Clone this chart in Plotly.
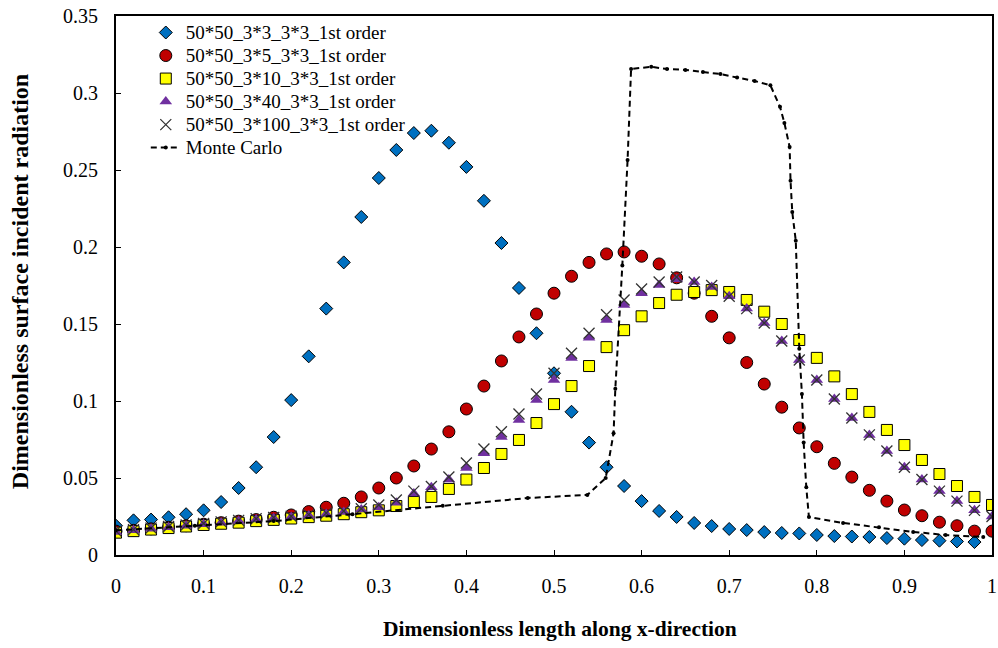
import plotly.graph_objects as go

x_vals = [0.00, 0.02, 0.04, 0.06, 0.08, 0.10, 0.12, 0.14, 0.16, 0.18,
          0.20, 0.22, 0.24, 0.26, 0.28, 0.30, 0.32, 0.34, 0.36, 0.38,
          0.40, 0.42, 0.44, 0.46, 0.48, 0.50, 0.52, 0.54, 0.56, 0.58,
          0.60, 0.62, 0.64, 0.66, 0.68, 0.70, 0.72, 0.74, 0.76, 0.78,
          0.80, 0.82, 0.84, 0.86, 0.88, 0.90, 0.92, 0.94, 0.96, 0.98, 1.00]

blue_3x3 = [0.019, 0.0225, 0.023, 0.0245, 0.0265, 0.029, 0.0344, 0.0435, 0.057, 0.0766,
            0.1006, 0.129, 0.160, 0.190, 0.2195, 0.2448, 0.263, 0.274, 0.2755, 0.2677,
            0.252, 0.230, 0.2026, 0.1734, 0.144, 0.118, 0.093, 0.073, 0.057, 0.0448,
            0.035, 0.0286, 0.0247, 0.0208, 0.0188, 0.0169, 0.0162, 0.0149, 0.0143, 0.0140,
            0.013, 0.0123, 0.012, 0.0117, 0.0110, 0.0106, 0.0097, 0.0093, 0.0088, 0.0084]

red_3x5 = [0.0155, 0.016, 0.017, 0.018, 0.019, 0.020, 0.021, 0.022, 0.023, 0.0245,
           0.026, 0.0282, 0.031, 0.0336, 0.0377, 0.0435, 0.050, 0.0578, 0.0688, 0.080,
           0.0948, 0.1097, 0.126, 0.1416, 0.1565, 0.170, 0.181, 0.190, 0.1955, 0.1968,
           0.194, 0.189, 0.180, 0.170, 0.155, 0.141, 0.125, 0.111, 0.096, 0.0825,
           0.0703, 0.0595, 0.0506, 0.042, 0.035, 0.0292, 0.0255, 0.0213, 0.019, 0.0155, 0.0155]

yellow_3x10 = [0.0145, 0.0155, 0.0165, 0.0175, 0.0185, 0.0195, 0.0203, 0.021, 0.022, 0.0228,
               0.0237, 0.0246, 0.0255, 0.0265, 0.0278, 0.029, 0.0318, 0.0344, 0.0377, 0.0429,
               0.049, 0.0565, 0.0656, 0.0747, 0.0857, 0.098, 0.1097, 0.1227, 0.135, 0.146,
               0.155, 0.1636, 0.169, 0.1708, 0.172, 0.1708, 0.1656, 0.158, 0.150, 0.1396,
               0.128, 0.116, 0.1045, 0.0929, 0.0812, 0.0714, 0.0617, 0.0526, 0.0448, 0.0377, 0.0325]

purple_3x40 = [0.015, 0.016, 0.017, 0.018, 0.019, 0.020, 0.021, 0.022, 0.023, 0.0238,
               0.0247, 0.0257, 0.0267, 0.028, 0.0295, 0.031, 0.034, 0.040, 0.044, 0.049,
               0.0565, 0.066, 0.0766, 0.0877, 0.1006, 0.1136, 0.128, 0.141, 0.1526, 0.1623,
               0.170, 0.1753, 0.179, 0.1773, 0.174, 0.168, 0.160, 0.1506, 0.139, 0.1266,
               0.1136, 0.1013, 0.089, 0.078, 0.0675, 0.057, 0.049, 0.0415, 0.035, 0.029, 0.025]

cross_3x100 = [0.0155, 0.0165, 0.0175, 0.0185, 0.0195, 0.0205, 0.0215, 0.0225, 0.0235, 0.0243,
               0.0252, 0.0262, 0.0272, 0.0285, 0.030, 0.0325, 0.0357, 0.0415, 0.0445, 0.0507,
               0.0597, 0.0688, 0.080, 0.0916, 0.1045, 0.118, 0.131, 0.144, 0.156, 0.1656,
               0.1727, 0.1773, 0.1805, 0.1773, 0.175, 0.168, 0.160, 0.1506, 0.139, 0.1266,
               0.1136, 0.1013, 0.089, 0.078, 0.0675, 0.057, 0.049, 0.0415, 0.035, 0.029, 0.025]

mc_x = [0.0, 0.09, 0.18, 0.27, 0.373, 0.47, 0.538, 0.559, 0.568, 0.570, 0.578, 0.584,
        0.588, 0.611, 0.629, 0.650, 0.670, 0.690, 0.709, 0.729, 0.747, 0.758, 0.763,
        0.769, 0.770, 0.772, 0.776, 0.780, 0.783, 0.785, 0.788, 0.791, 0.830, 0.871,
        0.910, 0.947, 0.990]
mc_y = [0.016, 0.019, 0.022, 0.0265, 0.032, 0.037, 0.039, 0.050, 0.079, 0.108, 0.188, 0.2565,
        0.3156, 0.317, 0.3156, 0.315, 0.3136, 0.3123, 0.310, 0.3078, 0.305, 0.291, 0.2805,
        0.265, 0.243, 0.2227, 0.204, 0.134, 0.1045, 0.073, 0.044, 0.0247, 0.0208, 0.018,
        0.015, 0.013, 0.0117]

names = ["50*50_3*3_3*3_1st order", "50*50_3*5_3*3_1st order", "50*50_3*10_3*3_1st order",
         "50*50_3*40_3*3_1st order", "50*50_3*100_3*3_1st order", "Monte Carlo"]

x_title = "Dimensionless length along x-direction"
y_title = "Dimensionless surface incident radiation"

x_ticks = [0, 0.1, 0.2, 0.3, 0.4, 0.5, 0.6, 0.7, 0.8, 0.9, 1]
x_tick_text = ["0", "0.1", "0.2", "0.3", "0.4", "0.5", "0.6", "0.7", "0.8", "0.9", "1"]
y_ticks = [0, 0.05, 0.1, 0.15, 0.2, 0.25, 0.3, 0.35]
y_tick_text = ["0", "0.05", "0.1", "0.15", "0.2", "0.25", "0.3", "0.35"]

FONT = "Liberation Serif, Times New Roman, serif"


def leg(name):
    return '<span style="font-size:19px">' + name + '</span>'


fig = go.Figure()
fig.add_trace(go.Scatter(x=x_vals[:len(blue_3x3)], y=blue_3x3, mode="markers", name=leg(names[0]),
                         marker=dict(symbol="diamond", size=10, color="#0070C0",
                                     line=dict(color="black", width=1))))
fig.add_trace(go.Scatter(x=x_vals, y=red_3x5, mode="markers", name=leg(names[1]),
                         marker=dict(symbol="circle", size=12, color="#C00000",
                                     line=dict(color="black", width=1))))
fig.add_trace(go.Scatter(x=x_vals, y=yellow_3x10, mode="markers", name=leg(names[2]),
                         marker=dict(symbol="square", size=11, color="#FFFF00",
                                     line=dict(color="black", width=1))))
fig.add_trace(go.Scatter(x=x_vals, y=purple_3x40, mode="markers", name=leg(names[3]),
                         marker=dict(symbol="triangle-up", size=11, color="#7030A0",
                                     line=dict(color="#7030A0", width=0))))
fig.add_trace(go.Scatter(x=x_vals, y=cross_3x100, mode="markers", name=leg(names[4]),
                         marker=dict(symbol="x-thin", size=11, color="#333333",
                                     line=dict(color="#333333", width=1.3))))
fig.add_trace(go.Scatter(x=mc_x, y=mc_y, mode="lines+markers", name=leg(names[5]),
                         line=dict(color="black", width=2, dash="6px,4px"),
                         marker=dict(symbol="circle", size=4, color="black")))

axis_common = dict(showline=True, linecolor="black", linewidth=2, mirror=True,
                   ticks="inside", ticklen=5, tickcolor="black", tickwidth=1,
                   showgrid=False, zeroline=False,
                   tickfont=dict(family=FONT, size=20, color="black"))

fig.update_xaxes(range=[0, 1], tickvals=x_ticks, ticktext=x_tick_text, ticklabelstandoff=12,
                 **axis_common)
fig.update_yaxes(range=[0, 0.35], tickvals=y_ticks, ticktext=y_tick_text, ticklabelstandoff=12,
                 **axis_common)

fig.add_annotation(text="<b>" + x_title + "</b>", xref="paper", yref="paper",
                   x=0.507, y=-0.137, xanchor="center", yanchor="middle", showarrow=False,
                   font=dict(family=FONT, size=21.5, color="black"))
fig.add_annotation(text="<b>" + y_title + "</b>", xref="paper", yref="paper",
                   x=-0.1096, y=0.508, xanchor="center", yanchor="middle", showarrow=False,
                   textangle=-90, font=dict(family=FONT, size=24, color="black"))

fig.update_layout(width=998, height=648, plot_bgcolor="white", paper_bgcolor="white",
                  margin=dict(l=116, r=6, t=16, b=93, autoexpand=False),
                  font=dict(family=FONT, size=15, color="black"),
                  legend=dict(x=0.034, y=1.0, xanchor="left", yanchor="top",
                              bgcolor="rgba(0,0,0,0)", font=dict(family=FONT, size=15.4),
                              tracegroupgap=0, itemwidth=30),
                  showlegend=True)

fig.write_html("out.html", config={"displayModeBar": False},
               post_script="document.body.style.margin='0px';"
                           "document.body.style.overflow='hidden';")
